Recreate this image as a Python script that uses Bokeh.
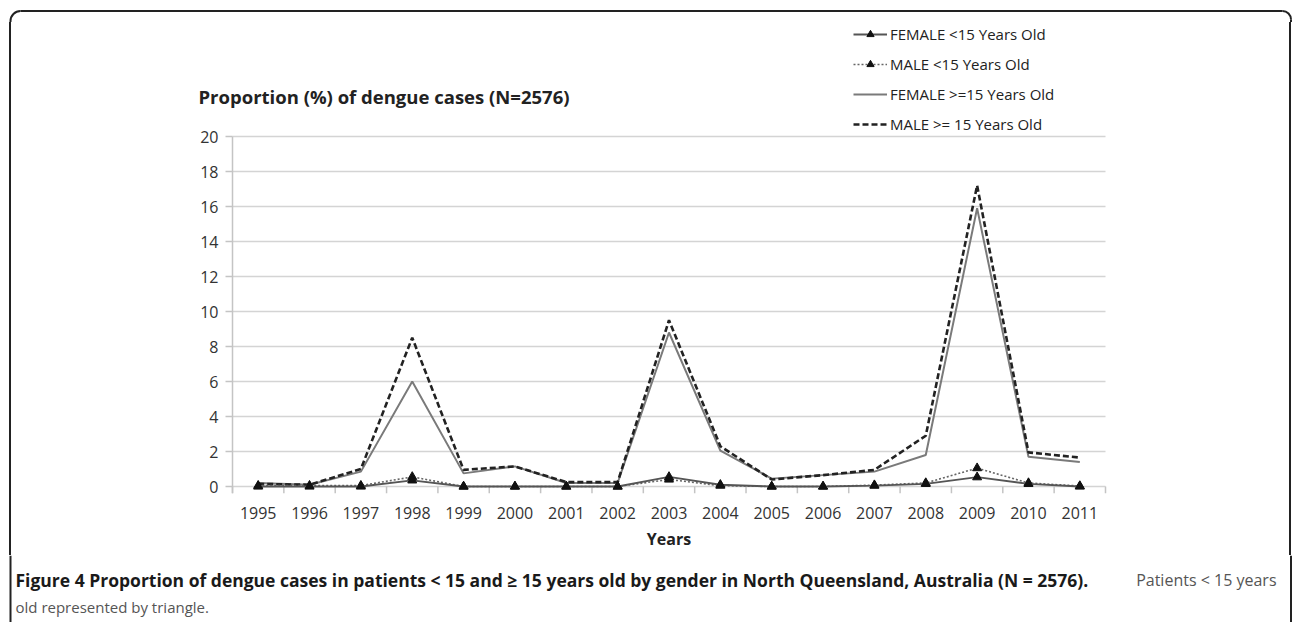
from math import pi
from bokeh.plotting import figure
from bokeh.models import Range1d, FixedTicker, Legend, LegendItem, Label, Div
from bokeh.layouts import column, row
from bokeh.embed import file_html
from bokeh.resources import INLINE

years = list(range(1995, 2012))
female_lt15 = [0.0, 0.0, 0.0, 0.35, 0.0, 0.0, 0.0, 0.0, 0.55, 0.1, 0.0, 0.0, 0.05, 0.15, 0.53, 0.15, 0.0]
male_lt15 = [0.05, 0.05, 0.05, 0.55, 0.0, 0.0, 0.0, 0.0, 0.4, 0.05, 0.0, 0.0, 0.08, 0.2, 1.05, 0.2, 0.03]
female_ge15 = [0.2, 0.1, 0.85, 6.0, 0.75, 1.15, 0.2, 0.2, 8.8, 2.05, 0.45, 0.65, 0.85, 1.8, 15.9, 1.7, 1.4]
male_ge15 = [0.15, 0.1, 1.0, 8.5, 0.95, 1.15, 0.25, 0.25, 9.5, 2.3, 0.4, 0.65, 0.95, 2.9, 17.2, 1.95, 1.65]
y_ticks = list(range(0, 21, 2))
series_labels = ["FEMALE <15 Years Old", "MALE <15 Years Old",
                 "FEMALE >=15 Years Old", "MALE >= 15 Years Old"]
title_text = "Proportion (%) of dengue cases (N=2576)"
x_title = "Years"
caption_bold = ("Figure 4 Proportion of dengue cases in patients < 15 and \u2265 15 years old "
                "by gender in North Queensland, Australia (N = 2576).")
caption_rest1 = "Patients < 15 years"
caption_rest2 = "old represented by triangle."

FONT = "Open Sans"
BORDER = dict(line_color="#222222", line_width=2)
GRID = dict(line_color="#d4d4d4", line_width=1.6)
AXIS = dict(line_color="#c4c4c4", line_width=1.5)

STY_FLT = dict(line_color="#555555", line_width=1.8)
STY_MLT = dict(line_color="#666666", line_width=1.6, line_dash="2 2")
STY_FGE = dict(line_color="#7a7a7a", line_width=2)
STY_MGE = dict(line_color="#222222", line_width=2.6, line_dash="6 3")
STY_TRI = dict(marker="triangle", size=9, fill_color="#111111", line_color="#111111")

# page geometry (pixels)
PAGE_W = 1292
TOP_H = 22
CAP_H = 67
MID_H = 622 - TOP_H - CAP_H          # page y 22..555
STRIP_W = 20
MAIN_W = PAGE_W - 2 * STRIP_W        # page x 20..1272
PLOT_L, PLOT_R = 232, 1105           # category band edges on the page
ZERO_Y, TOP_GRID_Y = 486, 136        # page y of value 0 and 20
FRAME_L = 65                         # page x of main frame left
FRAME_B = 493                        # page y of main frame bottom

px_per_year = (PLOT_R - PLOT_L) / len(years)
px_per_unit = (ZERO_Y - TOP_GRID_Y) / 20.0
x0 = years[0] - 0.5 - (PLOT_L - FRAME_L) / px_per_year
x1 = years[-1] + 0.5 + (STRIP_W + MAIN_W - PLOT_R) / px_per_year
y0 = -(FRAME_B - ZERO_Y) / px_per_unit
y1 = 20 + (TOP_GRID_Y - TOP_H) / px_per_unit


def blank(w, h):
    f = figure(width=w, height=h, output_backend="svg", toolbar_location=None,
               x_range=Range1d(0, w), y_range=Range1d(0, h),
               x_axis_location=None, y_axis_location=None, min_border=0)
    f.grid.grid_line_color = None
    f.outline_line_color = None
    f.background_fill_color = "white"
    f.border_fill_color = "white"
    return f


# ---------------- top strip: rounded top border ----------------
top = blank(PAGE_W, TOP_H)
ty = TOP_H - 10.5
top.segment(x0=[20], y0=[ty], x1=[1282], y1=[ty], **BORDER)
top.arc(x=[20], y=[ty - 10], radius=10, start_angle=pi / 2, end_angle=pi, **BORDER)
top.arc(x=[1282], y=[ty - 8.5], radius=8.5, start_angle=0, end_angle=pi / 2, **BORDER)
top.segment(x0=[10, 1290.5], y0=[ty - 10, ty - 8.5], x1=[10, 1290.5], y1=[0, 0], **BORDER)


def side_bar(offset):
    return Div(text=f'<div style="width:2px;height:{MID_H}px;background:#222222;'
                    f'margin-left:{offset}px"></div>',
               width=STRIP_W, height=MID_H, margin=0)


# ---------------- main chart ----------------
p = figure(width=MAIN_W, height=MID_H, output_backend="svg", toolbar_location=None,
           x_range=Range1d(x0, x1), y_range=Range1d(y0, y1),
           min_border_left=FRAME_L - STRIP_W, min_border_right=0,
           min_border_top=0, min_border_bottom=TOP_H + MID_H - FRAME_B)
p.outline_line_color = None
p.background_fill_color = "white"
p.border_fill_color = "white"
p.grid.grid_line_color = None

band_l, band_r = years[0] - 0.5, years[-1] + 0.5
# horizontal gridlines over the category band
p.segment(x0=[band_l] * len(y_ticks), y0=y_ticks, x1=[band_r] * len(y_ticks), y1=y_ticks, **GRID)
# value-axis line
p.segment(x0=[band_l], y0=[y0], x1=[band_l], y1=[20], **AXIS)
# category boundary ticks below the zero line
bounds = [y - 0.5 for y in years] + [band_r]
p.segment(x0=bounds, y0=[0] * len(bounds), x1=bounds, y1=[y0] * len(bounds), **AXIS)

p.yaxis.fixed_location = band_l
p.yaxis.ticker = FixedTicker(ticks=y_ticks)
p.yaxis.axis_line_color = None
p.yaxis.major_tick_line_color = "#c4c4c4"
p.yaxis.major_tick_line_width = 1.5
p.yaxis.major_tick_out = 7
p.yaxis.major_tick_in = 0
p.yaxis.minor_tick_line_color = None
p.yaxis.major_label_standoff = 7
p.yaxis.major_label_text_font = FONT
p.yaxis.major_label_text_font_size = "16px"
p.yaxis.major_label_text_color = "#333333"

p.xaxis.ticker = FixedTicker(ticks=years)
p.xaxis.axis_line_color = None
p.xaxis.major_tick_line_color = None
p.xaxis.major_tick_out = 0
p.xaxis.major_tick_in = 0
p.xaxis.minor_tick_line_color = None
p.xaxis.major_label_standoff = 13
p.xaxis.major_label_text_font = FONT
p.xaxis.major_label_text_font_size = "16px"
p.xaxis.major_label_text_color = "#333333"
p.xaxis.axis_label = x_title
p.xaxis.axis_label_text_font = FONT
p.xaxis.axis_label_text_font_size = "16px"
p.xaxis.axis_label_text_font_style = "bold"
p.xaxis.axis_label_text_color = "#222222"
p.xaxis.axis_label_standoff = 6

r_fge = p.line(years, female_ge15, **STY_FGE)
r_mge = p.line(years, male_ge15, **STY_MGE)
r_mlt = p.line(years, male_lt15, **STY_MLT)
r_mlt_m = p.scatter(years, male_lt15, **STY_TRI)
r_flt = p.line(years, female_lt15, **STY_FLT)
r_flt_m = p.scatter(years, female_lt15, **STY_TRI)

# title (inside the frame, which extends above the value grid)
p.add_layout(Label(x=198 - FRAME_L, y=FRAME_B - 96, x_units="screen", y_units="screen",
                   text=title_text, text_font=FONT, text_font_size="18.5px",
                   text_font_style="bold", text_baseline="middle", text_color="#222222"))

legend = Legend(items=[
    LegendItem(label=series_labels[0], renderers=[r_flt, r_flt_m]),
    LegendItem(label=series_labels[1], renderers=[r_mlt, r_mlt_m]),
    LegendItem(label=series_labels[2], renderers=[r_fge]),
    LegendItem(label=series_labels[3], renderers=[r_mge]),
], location=(853 - FRAME_L, FRAME_B - 134), orientation="vertical",
    glyph_width=34, glyph_height=18, label_height=18, spacing=10,
    label_standoff=3, padding=0, margin=0,
    label_text_font=FONT, label_text_font_size="15px", label_text_color="#222222",
    background_fill_alpha=0, border_line_color=None)
p.add_layout(legend, "center")

# ---------------- caption strip ----------------
cap = blank(PAGE_W, CAP_H)
cap.segment(x0=[10, 1290.5], y0=[0, 0], x1=[10, 1290.5], y1=[CAP_H, CAP_H], **BORDER)
cap.add_layout(Label(x=15, y=CAP_H - 24, text=caption_bold, text_font=FONT, text_font_size="17.5px",
                     text_font_style="bold", text_baseline="middle", text_color="#1a1a1a"))
cap.add_layout(Label(x=1276, y=CAP_H - 24, text=caption_rest1, text_font=FONT, text_font_size="16px",
                     text_align="right", text_baseline="middle", text_color="#555555"))
cap.add_layout(Label(x=15, y=CAP_H - 51, text=caption_rest2, text_font=FONT, text_font_size="15px",
                     text_baseline="middle", text_color="#555555"))

layout = column(top, row(side_bar(9), p, side_bar(17)), cap)
open("out.html", "w").write(file_html(layout, INLINE))
